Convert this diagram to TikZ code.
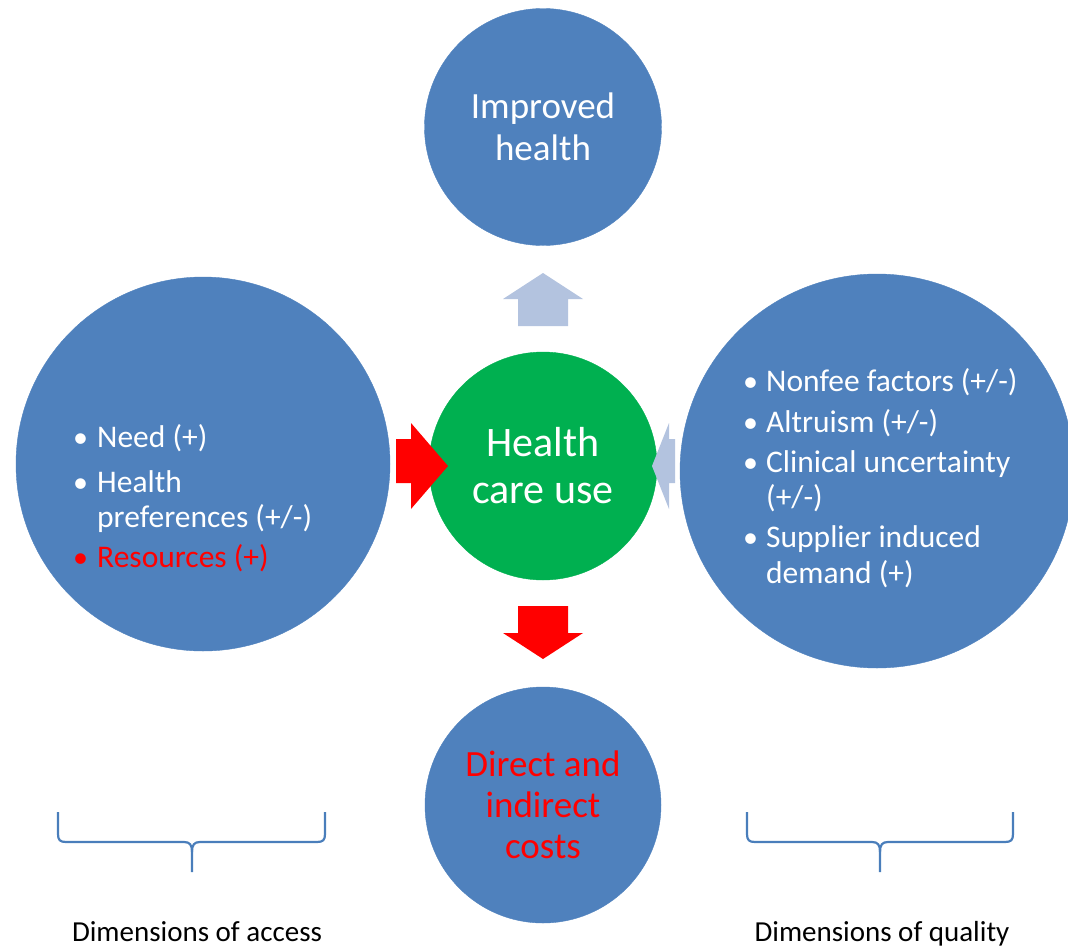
\documentclass[tikz,border=0pt]{standalone}
\usepackage{fontspec}
\setmainfont{Carlito}
\definecolor{cblue}{HTML}{4F81BD}
\definecolor{cgreen}{HTML}{00B050}
\definecolor{cred}{HTML}{FF0000}
\definecolor{clight}{HTML}{B3C3DF}
\definecolor{cbrace}{HTML}{4A7EBB}
\begin{document}
\begin{tikzpicture}[x=1pt,y=-1pt,
  bigcirc/.style={circle,fill=cblue,draw=cblue,inner sep=0pt,align=center},
  midcirc/.style={circle,fill=cgreen,draw=cgreen,inner sep=0pt,align=center},
  ctext/.style={font=\fontsize{37}{42}\selectfont,text=white},
  item/.style={anchor=base west,inner sep=0pt,text=white,font=\fontsize{31.5}{35}\selectfont},
  bul/.style={anchor=base west,inner sep=0pt,text=white,font=\fontsize{30}{35}\selectfont},
  bracepath/.style={draw=cbrace,line width=2.2pt},
  dimlabel/.style={anchor=base,inner sep=0pt,font=\fontsize{29}{32}\selectfont}
]
\useasboundingbox (0,0) rectangle (1068,948);
\clip (0,0) rectangle (1068,948);
% circles
\node[bigcirc,minimum size=237pt,ctext] (top) at (543,127) {Improved\\health};
\node[bigcirc,minimum size=374pt] (left) at (203,464) {};
\node[bigcirc,minimum size=394pt] (right) at (877,471) {};
\node[bigcirc,minimum size=236pt,ctext,text=cred,font=\fontsize{37}{41}\selectfont] (bottom) at (543,805) {Direct and\\indirect\\costs};
\node[midcirc,minimum size=228pt,font=\fontsize{42}{47}\selectfont,text=white] (ctr) at (543,466) {Health\\care use};
% block arrows
\fill[clight] (518,326) -- (518,299) -- (503,299) -- (543,273) -- (583,299) -- (568,299) -- (568,326) -- cycle;
\fill[cred] (518,606) -- (568,606) -- (568,633) -- (583,633) -- (543,659) -- (503,633) -- (518,633) -- cycle;
\fill[cred] (396,439) -- (411,439) -- (411,423) -- (448,466) -- (411,509) -- (411,483) -- (396,483) -- cycle;
\fill[clight] (675,439) -- (669,439) -- (669,423) -- (652,466) -- (669,509) -- (669,483) -- (675,483) -- cycle;
% left list
\node[bul] (lb1) at (73,447) {•};
\node[item] (l1) at (97,447) {Need (+)};
\node[bul] (lb2) at (73,492) {•};
\node[item] (l2) at (97,492) {Health};
\node[item] (l3) at (97,527) {preferences (+/-)};
\node[bul,text=cred] (lb4) at (73,567) {•};
\node[item,text=cred] (l4) at (97,567) {Resources (+)};
% right list
\node[bul] (rb1) at (743,391) {•};
\node[item] (r1) at (766,391) {Nonfee factors (+/-)};
\node[bul] (rb2) at (743,432) {•};
\node[item] (r2) at (766,432) {Altruism (+/-)};
\node[bul] (rb3) at (743,472) {•};
\node[item] (r3) at (766,472) {Clinical uncertainty};
\node[item] (r4) at (766,507) {(+/-)};
\node[bul] (rb5) at (743,547) {•};
\node[item] (r5) at (766,547) {Supplier induced};
\node[item] (r6) at (766,583) {demand (+)};
% braces
\coordinate (lbL) at (58,812);
\coordinate (lbR) at (325,812);
\coordinate (lbM) at (192,872);
\draw[bracepath] (lbL) -- (58,834) .. controls (58,840) and (60,842) .. (66,842) -- (184,842) .. controls (190,842) and (192,845) .. (192,852) -- (lbM);
\draw[bracepath] (lbR) -- (325,834) .. controls (325,840) and (323,842) .. (317,842) -- (200,842) .. controls (194,842) and (192,845) .. (192,852);
\coordinate (rbL) at (747,812);
\coordinate (rbR) at (1013,812);
\coordinate (rbM) at (880,872);
\draw[bracepath] (rbL) -- (747,834) .. controls (747,840) and (749,842) .. (755,842) -- (872,842) .. controls (878,842) and (880,845) .. (880,852) -- (rbM);
\draw[bracepath] (rbR) -- (1013,834) .. controls (1013,840) and (1011,842) .. (1005,842) -- (888,842) .. controls (882,842) and (880,845) .. (880,852);
% labels
\node[dimlabel] (dacc) at (197,941) {Dimensions of access};
\node[dimlabel] (dqual) at (882,941) {Dimensions of quality};
\end{tikzpicture}
\end{document}
